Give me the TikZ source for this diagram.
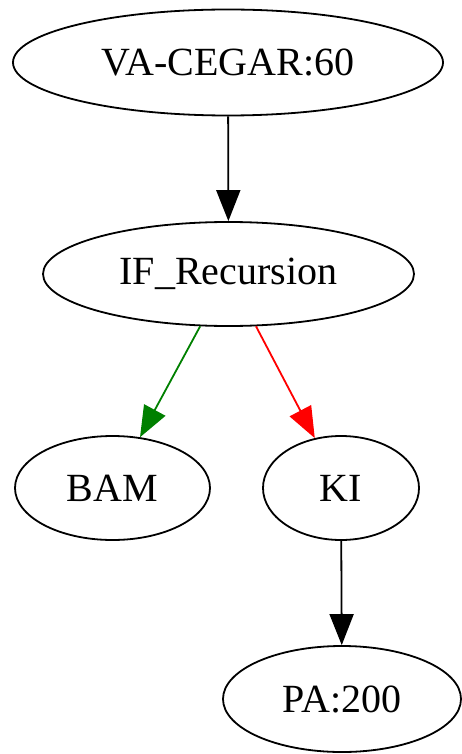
\documentclass[tikz,border=0pt]{standalone}
\usepackage{fontspec}
\setmainfont{Liberation Serif}
\usetikzlibrary{shapes.geometric,arrows.meta}
\definecolor{edgegreen}{RGB}{0,128,0}
\definecolor{edgered}{RGB}{255,0,0}
\tikzset{
  gnode/.style={ellipse, draw=black, line width=1.8pt, inner sep=0pt,
    font=\fontsize{40}{48}\selectfont},
  gedge/.style={line width=1.8pt, -{Triangle[length=31pt,width=24pt]}},
}
\begin{document}
\begin{tikzpicture}[x=1pt,y=-1pt]
\useasboundingbox (0,0) rectangle (462,754);
\node[gnode, minimum width=430pt, minimum height=106pt] (va) at (228,62.5) {VA-CEGAR:60};
\node[gnode, minimum width=371pt, minimum height=104pt] (if) at (228.5,274) {IF\_Recursion};
\node[gnode, minimum width=195pt, minimum height=104pt] (bam) at (112.5,488) {BAM};
\node[gnode, minimum width=156pt, minimum height=104pt] (ki) at (341,488) {KI};
\node[gnode, minimum width=238pt, minimum height=106pt] (pa) at (342,699) {PA:200};
\draw[gedge] (va) -- (if);
\draw[gedge, edgegreen] (if) -- (bam);
\draw[gedge, edgered] (if) -- (ki);
\draw[gedge] (ki) -- (pa);
\end{tikzpicture}
\end{document}
